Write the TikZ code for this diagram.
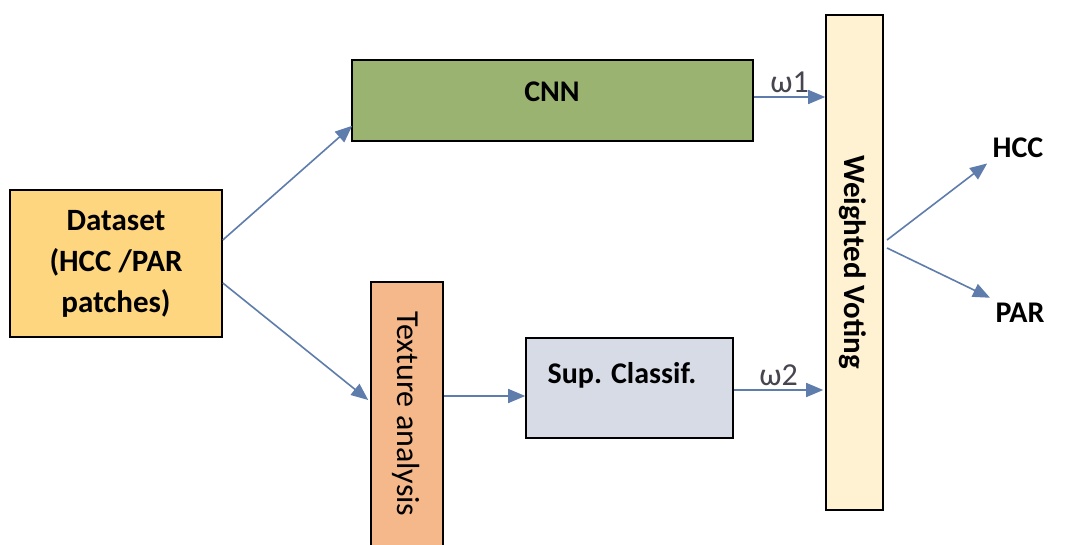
\documentclass[tikz,border=0pt]{standalone}
\usepackage{fontspec}
\setmainfont{Carlito}
\usetikzlibrary{arrows.meta}
\definecolor{dsfill}{RGB}{253,214,127}
\definecolor{cnnfill}{RGB}{155,179,112}
\definecolor{wvfill}{RGB}{255,242,211}
\definecolor{texfill}{RGB}{244,184,138}
\definecolor{supfill}{RGB}{215,219,230}
\definecolor{arr}{RGB}{94,124,172}
\definecolor{wgray}{RGB}{70,70,80}
\tikzset{
  box/.style={draw=black, line width=1.6pt, inner sep=0pt, align=center},
  conn/.style={draw=arr, line width=1.6pt, -{Triangle[length=17pt,width=14pt]}},
  wlab/.style={text=wgray, font=\fontsize{32}{36}\selectfont},
  outlab/.style={font=\fontsize{30}{34}\selectfont\bfseries},
}
\begin{document}
\begin{tikzpicture}[x=1pt,y=-1pt]
\useasboundingbox[fill=white] (0,0) rectangle (1082,545);
\node[box, fill=dsfill, minimum width=212pt, minimum height=147pt, font=\fontsize{31}{41}\selectfont\bfseries] (ds) at (116,263.5) {Dataset\\(HCC /PAR\\patches)};
\node[box, fill=cnnfill, minimum width=401pt, minimum height=81pt] (cnn) at (552.5,100.5) {};
\node[font=\fontsize{30}{34}\selectfont\bfseries] (cnnt) at (552,92) {CNN};
\node[box, fill=wvfill, minimum width=57pt, minimum height=495pt] (wv) at (854.5,262.5) {};
\node[rotate=-90, font=\fontsize{31}{34}\selectfont\bfseries] (wvt) at (853,262) {Weighted Voting};
\node[box, fill=texfill, minimum width=72pt, minimum height=265pt] (tex) at (407,414.5) {};
\node[rotate=-90, font=\fontsize{32}{36}\selectfont] (text) at (406,414) {Texture analysis};
\node[box, fill=supfill, minimum width=207pt, minimum height=100pt] (sup) at (629.5,388) {};
\node[font=\fontsize{30}{34}\selectfont\bfseries] (supt) at (622,375) {Sup. Classif.};
\node[outlab] (hcc) at (1018,148) {HCC};
\node[outlab] (par) at (1020,313) {PAR};
\coordinate (wvo1) at (887,240);
\coordinate (wvo2) at (887,248);
\draw[conn] ([yshift=23.5pt]ds.east) -- ([xshift=1pt,yshift=16pt]cnn.south west);
\draw[conn] ([yshift=-19.5pt]ds.east) -- ([xshift=-2pt,yshift=14.5pt]tex.west);
\draw[conn] ([yshift=18.5pt]tex.east) -- ([yshift=-8pt]sup.west);
\draw[conn] ([yshift=3.5pt]cnn.east) -- ([yshift=3.5pt]cnn.east -| wv.west) node[wlab, midway, above=0pt] (w1) {ω1};
\draw[conn] ([yshift=-2pt]sup.east) -- ([xshift=-2pt,yshift=-2pt]sup.east -| wv.west) node[wlab, midway, above=0pt] (w2) {ω2};
\draw[conn] (wvo1) -- ([xshift=-2pt,yshift=-2pt]hcc.south west);
\draw[conn] (wvo2) -- ([xshift=-2pt,yshift=2pt]par.north west);
\end{tikzpicture}
\end{document}
